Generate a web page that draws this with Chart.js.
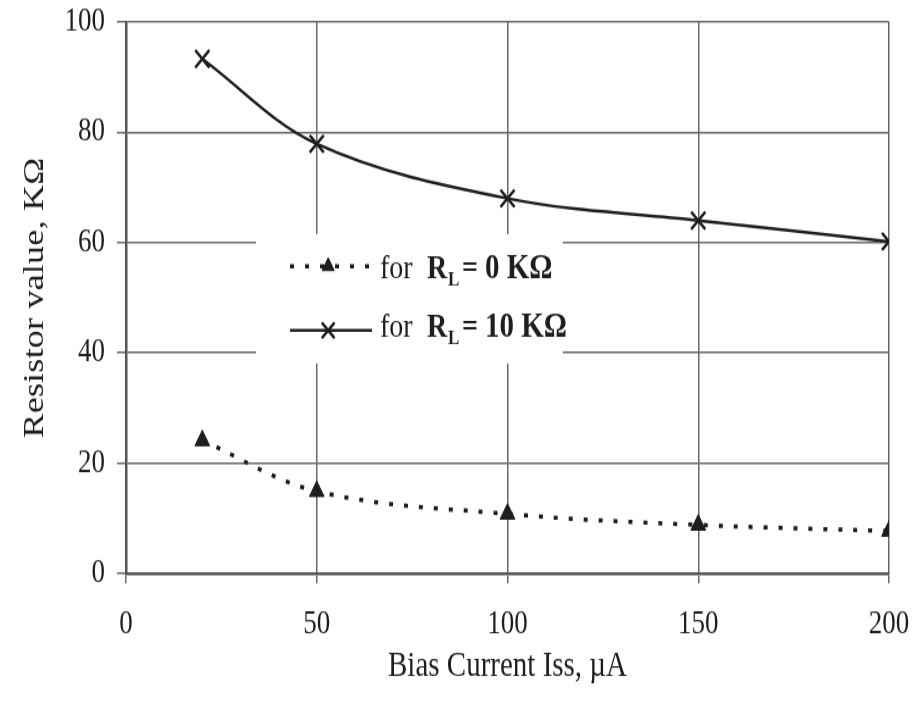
<!DOCTYPE html>
<html>
<head>
<meta charset="utf-8">
<script src="https://cdn.jsdelivr.net/npm/chart.js@4.4.1/dist/chart.umd.min.js"></script>
<style>
html,body{margin:0;padding:0;background:#fff;overflow:hidden;}
#wrap{width:919px;height:577px;position:absolute;left:0;top:0;transform:scaleY(1.2201);transform-origin:0 0;}
canvas{display:block;}
</style>
</head>
<body>
<div id="wrap"><canvas id="c" width="919" height="577"></canvas></div>
<script>
const biasCurrent = [20, 50, 100, 150, 200];
const rl0Values = [24.1, 14.9, 10.8, 8.8, 7.7];
const rl10Values = [93.3, 77.9, 68.0, 64.0, 60.2];
const xTicks = [0, 50, 100, 150, 200];
const yTicks = [0, 20, 40, 60, 80, 100];
const legendValues = ['0 KΩ', '10 KΩ'];
const seriesNames = ['for RL= 0 KΩ', 'for RL= 10 KΩ'];

const SERIF = '"Liberation Serif", "DejaVu Serif", serif';
const INK = '#1e1e1e';

const legendPlugin = {
  id: 'inlineLegend',
  beforeDatasetsDraw(chart) {
    const ctx = chart.ctx;
    const x = chart.scales.x, y = chart.scales.y;
    const L = chart.chartArea.left;
    ctx.save();
    ctx.fillStyle = '#fff';
    const bx1 = x.getPixelForValue(34.1), bx2 = x.getPixelForValue(114.5);
    const by1 = y.getPixelForValue(61.5), by2 = y.getPixelForValue(38.1);
    ctx.fillRect(bx1, by1, bx2 - bx1, by2 - by1);
    const rows = [
      {lineV: 55.7, textV: 55.2, dash: [4, 11], width: 3.5, style: 'triangle', r: 7, val: legendValues[0]},
      {lineV: 44.1, textV: 44.5, dash: [], width: 2.5, style: 'crossRot', r: 9, val: legendValues[1]}
    ];
    rows.forEach(r => {
      const py = y.getPixelForValue(r.lineV);
      const ty = y.getPixelForValue(r.textV);
      const x1 = x.getPixelForValue(43), x2 = x.getPixelForValue(64.5), xm = x.getPixelForValue(53);
      ctx.strokeStyle = INK;
      ctx.fillStyle = INK;
      ctx.lineWidth = r.width;
      ctx.setLineDash(r.dash);
      ctx.beginPath(); ctx.moveTo(x1, py); ctx.lineTo(x2, py); ctx.stroke();
      ctx.setLineDash([]);
      ctx.lineWidth = r.style === 'triangle' ? 1 : 2.5;
      Chart.helpers.drawPoint(ctx, {pointStyle: r.style, radius: r.r, borderWidth: ctx.lineWidth, rotation: 0}, xm, py);
      ctx.fillStyle = INK;
      ctx.textBaseline = 'middle';
      ctx.textAlign = 'left';
      ctx.font = '28px ' + SERIF;
      ctx.fillText('for', L + (380 - 126), ty);
      ctx.font = 'bold 28px ' + SERIF;
      ctx.fillText('R', L + (427 - 126), ty);
      ctx.font = 'bold 17px ' + SERIF;
      ctx.fillText('L', L + (448 - 126), ty + 9);
      ctx.font = 'bold 28px ' + SERIF;
      ctx.fillText('=', L + (462 - 126), ty);
      ctx.font = 'bold 29px ' + SERIF;
      ctx.fillText(r.val, L + (485 - 126), ty);
    });
    ctx.restore();
  }
};

new Chart(document.getElementById('c'), {
  type: 'line',
  data: {
    datasets: [
      {
        label: seriesNames[0],
        data: biasCurrent.map((v, i) => ({x: v, y: rl0Values[i]})),
        borderColor: INK,
        backgroundColor: INK,
        borderWidth: 3.5,
        borderDash: [4, 11],
        tension: 0.35,
        pointStyle: 'triangle',
        pointRadius: 8.5,
        pointBorderWidth: 1,
        pointBackgroundColor: INK,
        pointBorderColor: INK
      },
      {
        label: seriesNames[1],
        data: biasCurrent.map((v, i) => ({x: v, y: rl10Values[i]})),
        borderColor: INK,
        backgroundColor: INK,
        borderWidth: 2.5,
        tension: 0.35,
        pointStyle: 'crossRot',
        pointRadius: 10,
        pointBorderWidth: 2.5,
        pointBorderColor: INK
      }
    ]
  },
  options: {
    responsive: false,
    animation: false,
    layout: {padding: {top: 18, right: 30, left: 0, bottom: 0}},
    plugins: {legend: {display: false}, tooltip: {enabled: false}},
    scales: {
      x: {
        type: 'linear', min: 0, max: 200,
        afterBuildTicks: s => { s.ticks = xTicks.map(v => ({value: v})); },
        afterFit: s => { s.height = 107; s.paddingLeft = 0; s.paddingRight = 0; },
        grid: {color: '#686868', lineWidth: 1.5, tickLength: 8, drawTicks: true},
        border: {color: '#555', width: 2.5},
        ticks: {color: INK, font: {family: SERIF, size: 27}, padding: 18, maxRotation: 0},
        title: {display: true, text: 'Bias Current Iss, µA', color: INK, font: {family: SERIF, size: 29}, padding: {top: 4, bottom: 13}}
      },
      y: {
        type: 'linear', min: 0, max: 100,
        afterBuildTicks: s => { s.ticks = yTicks.map(v => ({value: v})); },
        afterFit: s => { s.width = 126; s.paddingTop = 0; s.paddingBottom = 0; },
        grid: {color: '#686868', lineWidth: 1.5, tickLength: 9, drawTicks: true},
        border: {color: '#555', width: 2.5},
        ticks: {color: INK, font: {family: SERIF, size: 27}, padding: 12},
        title: {display: true, text: 'Resistor value, KΩ', color: INK, font: {family: SERIF, size: 30}, padding: {top: 17, bottom: 0}}
      }
    }
  },
  plugins: [legendPlugin]
});
</script>
</body>
</html>
